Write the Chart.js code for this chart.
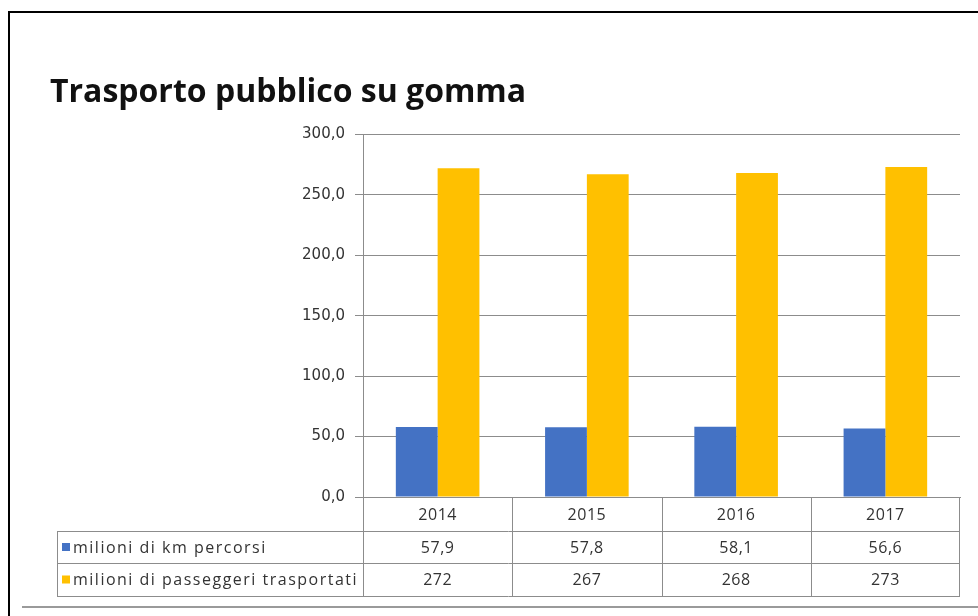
<!DOCTYPE html>
<html>
<head>
<meta charset="utf-8">
<script src="https://cdn.jsdelivr.net/npm/chart.js@4"></script>
<style>
  html, body { margin: 0; padding: 0; background: #fff; }
  #wrap { position: relative; width: 978px; height: 616px; overflow: hidden; }
  #frame { position: absolute; left: 8px; top: 11px; width: 1000px; height: 700px; border: 2px solid #000; box-sizing: border-box; }
  #rule { position: absolute; left: 22px; top: 606px; width: 960px; height: 2px; background: #9a9a9a; }
  canvas { position: absolute; left: 0; top: 0; }
</style>
</head>
<body>
<div id="wrap">
  <div id="frame"></div>
  <div id="rule"></div>
  <canvas id="chart" width="978" height="616"></canvas>
</div>
<script>
const years = ["2014", "2015", "2016", "2017"];
const kmPercorsi = [57.9, 57.8, 58.1, 56.6];
const passeggeri = [272, 267, 268, 273];
const kmLabels = ["57,9", "57,8", "58,1", "56,6"];
const passLabels = ["272", "267", "268", "273"];
const seriesNames = ["milioni di km percorsi", "milioni di passeggeri trasportati"];

const BLUE = "#4472c4";
const YELLOW = "#ffc000";
const GRID = "#8c8c8c";
const FONT = "'Open Sans', sans-serif";

// data table under the plot, aligned to the x scale
const dataTable = {
  id: "dataTable",
  afterDraw(chart) {
    const ctx = chart.ctx;
    const xs = chart.scales.x;
    const area = chart.chartArea;
    const step = xs.getPixelForTick(1) - xs.getPixelForTick(0);
    const right = area.right;
    const tableLeft = 57;
    const rowH = [34, 32, 33];
    const y0 = area.bottom;
    const y1 = y0 + rowH[0], y2 = y1 + rowH[1], y3 = y2 + rowH[2];

    ctx.save();
    ctx.strokeStyle = GRID;
    ctx.lineWidth = 1;
    ctx.beginPath();
    ctx.moveTo(tableLeft, y1 + 0.5); ctx.lineTo(right, y1 + 0.5);
    ctx.moveTo(tableLeft, y2 + 0.5); ctx.lineTo(right, y2 + 0.5);
    ctx.moveTo(tableLeft, y3 + 0.5); ctx.lineTo(right, y3 + 0.5);
    ctx.moveTo(tableLeft + 0.5, y1); ctx.lineTo(tableLeft + 0.5, y3);
    ctx.moveTo(right - 0.5, y0); ctx.lineTo(right - 0.5, y3);
    for (let i = 0; i < years.length; i++) {
      const x = Math.round(xs.getPixelForTick(i) - step / 2) + 0.5;
      ctx.moveTo(x, y0); ctx.lineTo(x, y3);
    }
    ctx.stroke();

    ctx.fillStyle = "#333";
    ctx.font = "16px " + FONT;
    ctx.letterSpacing = "0.5px";
    ctx.textAlign = "center";
    ctx.textBaseline = "middle";
    years.forEach((y, i) => {
      const x = xs.getPixelForTick(i);
      ctx.fillText(y, x, (y0 + y1) / 2 + 1);
      ctx.fillText(kmLabels[i], x, (y1 + y2) / 2 + 1);
      ctx.fillText(passLabels[i], x, (y2 + y3) / 2 + 1);
    });

    ctx.textAlign = "left";
    ctx.letterSpacing = "1.5px";
    const rows = [[y1, y2, BLUE], [y2, y3, YELLOW]];
    rows.forEach(([a, b, c], i) => {
      const cy = (a + b) / 2;
      ctx.fillStyle = c;
      ctx.fillRect(62, cy - 4, 8, 8);
      ctx.fillStyle = "#333";
      ctx.fillText(seriesNames[i], 73, cy + 1);
    });
    ctx.restore();
  }
};

new Chart(document.getElementById("chart"), {
  type: "bar",
  data: {
    labels: years,
    datasets: [
      { label: seriesNames[0], data: kmPercorsi, backgroundColor: BLUE },
      { label: seriesNames[1], data: passeggeri, backgroundColor: YELLOW }
    ]
  },
  options: {
    responsive: false,
    animation: false,
    datasets: {
      bar: { categoryPercentage: 0.56, barPercentage: 1.0 }
    },
    layout: { padding: { left: 50, right: 18, top: 74, bottom: 119 } },
    plugins: {
      legend: { display: false },
      tooltip: { enabled: false },
      title: {
        display: true,
        text: "Trasporto pubblico su gomma",
        align: "start",
        color: "#111",
        font: { family: FONT, size: 32, weight: "bold", lineHeight: 1.2 },
        padding: { top: 0, bottom: 22 }
      }
    },
    scales: {
      x: {
        ticks: { display: false },
        grid: { display: false },
        border: { display: true, color: GRID },
        afterFit: (s) => { s.height = 0; }
      },
      y: {
        min: 0,
        max: 300,
        ticks: {
          stepSize: 50,
          padding: 10,
          color: "#333",
          font: { family: "'DejaVu Sans', sans-serif", size: 15 },
          callback: (v) => v.toFixed(1).replace(".", ",")
        },
        grid: { color: GRID, tickLength: 8 },
        border: { color: GRID },
        afterFit: (s) => { s.width = 313; }
      }
    }
  },
  plugins: [dataTable]
});
</script>
</body>
</html>
